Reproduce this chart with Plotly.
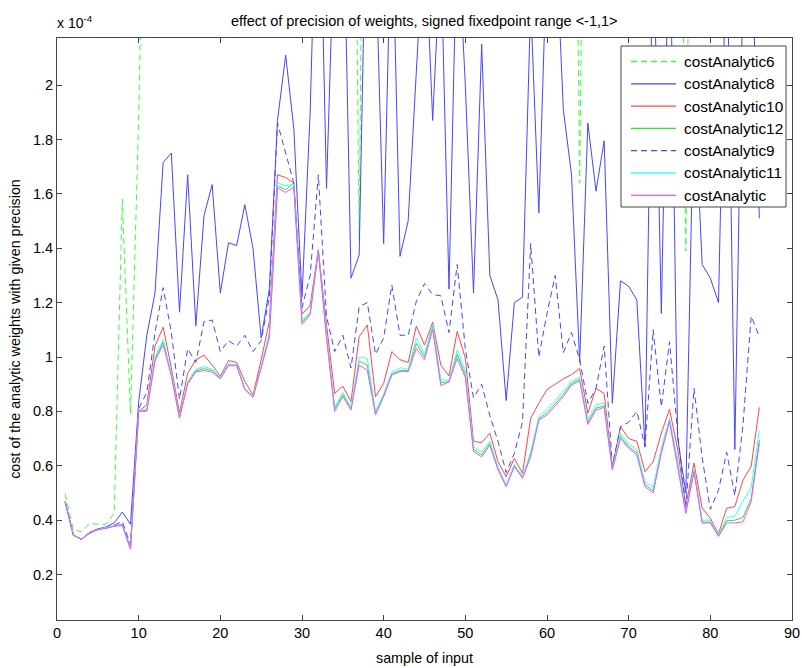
import plotly.graph_objects as go

# sample index 1..86
samples = list(range(1, 87))

# values in units of 1e-4
cost6 = [0.497, 0.365, 0.357, 0.388, 0.385, 0.385, 0.425, 1.580, 0.790, 1.880,
         3.400, 4.100, 3.800, 4.500, 3.600, 4.300, 3.900, 4.700, 4.200, 3.700,
         4.400, 4.000, 4.600, 3.900, 4.100, 4.800, 5.200, 4.900, 5.300, 4.400,
         4.700, 5.000, 4.300, 4.600, 4.200, 4.500, 1.430, 4.800, 4.400, 4.900,
         4.600, 4.300, 4.700, 5.000, 4.500, 4.800, 4.400, 4.600, 4.900, 4.700,
         4.200, 4.400, 4.100, 4.000, 3.900, 4.200, 4.300, 4.800, 4.500, 4.600,
         4.700, 4.900, 4.400, 1.640, 4.500, 4.300, 4.600, 4.100, 4.400, 4.200,
         4.300, 4.000, 4.500, 4.200, 4.400, 4.100, 1.390, 4.300, 4.000, 4.200,
         4.100, 4.400, 4.000, 4.300, 4.500, 4.600]

cost8 = [0.468, 0.345, 0.330, 0.355, 0.368, 0.375, 0.390, 0.430, 0.385, 0.834,
         1.080, 1.235, 1.715, 1.750, 1.165, 1.670, 1.115, 1.520, 1.634, 1.235,
         1.420, 1.410, 1.560, 1.400, 1.070, 1.250, 1.870, 2.110, 1.840, 1.220,
         1.900, 3.000, 1.620, 2.600, 2.800, 1.290, 1.375, 2.900, 2.500, 1.417,
         2.700, 1.370, 1.500, 2.050, 2.600, 1.870, 2.500, 1.250, 2.600, 2.000,
         1.235, 2.150, 1.300, 1.210, 0.840, 1.200, 1.220, 2.300, 1.530, 2.500,
         2.600, 1.910, 1.670, 0.980, 1.860, 1.610, 1.795, 0.830, 1.280, 1.260,
         1.210, 0.670, 2.600, 1.160, 2.700, 0.700, 0.500, 2.000, 1.340, 1.290,
         1.200, 2.600, 0.660, 2.400, 2.600, 1.510]

cost10 = [0.468, 0.345, 0.330, 0.355, 0.365, 0.372, 0.380, 0.385, 0.300, 0.800,
          0.824, 1.040, 1.110, 0.960, 0.795, 0.940, 0.990, 1.007, 0.970, 0.930,
          0.987, 0.980, 0.910, 0.860, 0.990, 1.130, 1.670, 1.660, 1.640, 1.157,
          1.190, 1.395, 1.120, 0.866, 0.893, 0.836, 1.075, 1.118, 0.854, 0.903,
          1.020, 0.990, 0.980, 1.114, 1.044, 1.128, 0.970, 0.930, 1.094, 0.996,
          0.690, 0.685, 0.720, 0.615, 0.560, 0.627, 0.572, 0.775, 0.830, 0.880,
          0.900, 0.920, 0.935, 0.958, 0.793, 0.885, 0.866, 0.597, 0.744, 0.700,
          0.690, 0.578, 0.615, 0.720, 0.808, 0.660, 0.450, 0.610, 0.445, 0.407,
          0.350, 0.444, 0.450, 0.548, 0.597, 0.815]

cost12 = [0.468, 0.345, 0.330, 0.352, 0.366, 0.371, 0.379, 0.381, 0.295, 0.800,
          0.805, 0.992, 1.055, 0.935, 0.777, 0.905, 0.950, 0.957, 0.950, 0.922,
          0.972, 0.970, 0.882, 0.853, 0.962, 1.080, 1.630, 1.615, 1.640, 1.128,
          1.160, 1.392, 1.078, 0.808, 0.862, 0.810, 0.985, 0.970, 0.793, 0.858,
          0.938, 0.950, 0.950, 1.050, 1.000, 1.112, 0.905, 0.910, 1.010, 0.935,
          0.660, 0.640, 0.682, 0.590, 0.526, 0.600, 0.557, 0.640, 0.772, 0.795,
          0.828, 0.862, 0.903, 0.918, 0.760, 0.812, 0.820, 0.588, 0.708, 0.670,
          0.648, 0.530, 0.508, 0.655, 0.768, 0.608, 0.428, 0.583, 0.393, 0.393,
          0.342, 0.398, 0.400, 0.410, 0.480, 0.695]

cost9 = [0.468, 0.345, 0.330, 0.354, 0.367, 0.372, 0.382, 0.395, 0.310, 0.810,
         0.870, 1.090, 1.255, 1.090, 0.845, 1.030, 0.980, 1.130, 1.136, 1.020,
         1.060, 1.040, 1.080, 1.020, 1.060, 1.220, 1.860, 1.750, 1.640, 1.180,
         1.300, 1.670, 1.150, 1.020, 1.080, 0.960, 1.185, 1.200, 1.010, 1.070,
         1.265, 1.080, 1.080, 1.205, 1.270, 1.230, 1.225, 1.090, 1.340, 1.030,
         0.850, 0.900, 0.785, 0.690, 0.575, 0.645, 0.760, 1.417, 1.000, 1.160,
         1.300, 1.016, 1.090, 0.990, 0.830, 0.885, 1.040, 0.600, 0.744, 0.760,
         0.800, 0.670, 1.100, 0.817, 1.056, 0.720, 0.445, 0.885, 0.630, 0.440,
         0.510, 0.650, 0.490, 0.750, 1.150, 1.075]

cost11 = [0.468, 0.345, 0.330, 0.353, 0.366, 0.372, 0.380, 0.383, 0.298, 0.800,
          0.810, 1.000, 1.065, 0.940, 0.780, 0.910, 0.955, 0.965, 0.955, 0.925,
          0.975, 0.972, 0.885, 0.855, 0.965, 1.090, 1.640, 1.630, 1.635, 1.135,
          1.165, 1.392, 1.085, 0.815, 0.870, 0.815, 1.000, 0.995, 0.800, 0.865,
          0.945, 0.960, 0.955, 1.070, 1.010, 1.120, 0.915, 0.915, 1.025, 0.950,
          0.670, 0.650, 0.690, 0.595, 0.530, 0.605, 0.560, 0.650, 0.780, 0.810,
          0.840, 0.875, 0.910, 0.925, 0.770, 0.825, 0.830, 0.590, 0.720, 0.680,
          0.660, 0.540, 0.520, 0.665, 0.775, 0.620, 0.430, 0.590, 0.400, 0.400,
          0.345, 0.410, 0.415, 0.470, 0.520, 0.730]

cost = [0.468, 0.345, 0.330, 0.352, 0.365, 0.370, 0.378, 0.380, 0.293, 0.800,
        0.800, 0.985, 1.045, 0.930, 0.775, 0.900, 0.945, 0.950, 0.944, 0.920,
        0.968, 0.968, 0.880, 0.852, 0.960, 1.070, 1.622, 1.605, 1.625, 1.120,
        1.155, 1.390, 1.070, 0.800, 0.854, 0.805, 0.970, 0.952, 0.787, 0.854,
        0.934, 0.946, 0.946, 1.032, 0.990, 1.100, 0.895, 0.908, 0.995, 0.925,
        0.652, 0.633, 0.676, 0.585, 0.523, 0.597, 0.554, 0.633, 0.768, 0.787,
        0.820, 0.854, 0.897, 0.912, 0.752, 0.805, 0.815, 0.585, 0.700, 0.664,
        0.640, 0.523, 0.500, 0.646, 0.762, 0.600, 0.425, 0.578, 0.389, 0.390,
        0.340, 0.390, 0.390, 0.394, 0.468, 0.683]

series_names = ["costAnalytic6", "costAnalytic8", "costAnalytic10", "costAnalytic12",
                "costAnalytic9", "costAnalytic11", "costAnalytic"]
series_values = [cost6, cost8, cost10, cost12, cost9, cost11, cost]
series_colors = ["rgb(60,255,60)", "rgb(70,70,255)", "rgb(255,70,70)", "rgb(40,230,40)",
                 "rgb(70,70,255)", "rgb(60,255,255)", "rgb(255,80,255)"]
series_dash = ["6px,4px", "solid", "solid", "solid", "6px,4px", "solid", "solid"]

y_ticks = [0.2, 0.4, 0.6, 0.8, 1.0, 1.2, 1.4, 1.6, 1.8, 2.0]
y_tick_labels = ["0.2", "0.4", "0.6", "0.8", "1", "1.2", "1.4", "1.6", "1.8", "2"]
x_ticks = [0, 10, 20, 30, 40, 50, 60, 70, 80, 90]

fig = go.Figure()
for name, vals, col, dash in zip(series_names, series_values, series_colors, series_dash):
    fig.add_trace(go.Scatter(x=samples, y=vals, mode="lines", name=name,
                             line=dict(color=col, width=1, dash=dash)))

font_family = "Liberation Sans, Arial, sans-serif"
axis_common = dict(showline=True, linecolor="#444", linewidth=1, mirror="ticks",
                   ticks="inside", ticklen=5, tickcolor="#444", showgrid=False,
                   zeroline=False, automargin=False,
                   tickfont=dict(family=font_family, size=14.5, color="#000"))

# plot area in pixels: x 57..792, y 38..620
L, R, T, B = 57, 10, 38, 48
W, H = 802, 668
pw, ph = W - L - R, H - T - B


def px_x(p):
    return (p - L) / pw


def px_y(p):
    return (H - B - p) / ph


fig.update_layout(
    width=W, height=H,
    margin=dict(l=L, r=R, t=T, b=B),
    paper_bgcolor="white", plot_bgcolor="white",
    title=dict(text="effect of precision of weights, signed fixedpoint range <-1,1>",
               x=0.529, xanchor="center", y=0.968, yanchor="middle",
               font=dict(family=font_family, size=14.5, color="#000")),
    xaxis=dict(range=[0, 90], tickvals=x_ticks, title=dict(text="sample of input",
               font=dict(family=font_family, size=14.3, color="#000"), standoff=12),
               **axis_common),
    yaxis=dict(range=[0.033, 2.173], tickvals=y_ticks, ticktext=y_tick_labels,
               title=dict(text="cost of the analytic weights with given precision",
                          font=dict(family=font_family, size=14.3, color="#000"), standoff=8),
               **axis_common),
    showlegend=False,
)

# exponent label
fig.add_annotation(text="x 10<sup>-4</sup>", xref="paper", yref="paper",
                   x=px_x(55), y=px_y(33), xanchor="left", yanchor="bottom", showarrow=False,
                   font=dict(family=font_family, size=14, color="#000"))

# legend box (drawn by hand to match the reference layout)
box_l, box_r, box_t, box_b = 621, 786, 46, 207
fig.add_shape(type="rect", xref="paper", yref="paper", layer="above",
              x0=px_x(box_l), x1=px_x(box_r), y0=px_y(box_b), y1=px_y(box_t),
              fillcolor="white", line=dict(color="#444", width=1))
entry_y0, entry_step = 61.5, 22.3
for k, (name, col, dash) in enumerate(zip(series_names, series_colors, series_dash)):
    yy = entry_y0 + k * entry_step
    fig.add_shape(type="line", xref="paper", yref="paper", layer="above",
                  x0=px_x(631), x1=px_x(676), y0=px_y(yy), y1=px_y(yy),
                  line=dict(color=col, width=1.3, dash=dash))
    fig.add_annotation(text=name, xref="paper", yref="paper",
                       x=px_x(680), y=px_y(yy), xanchor="left", yanchor="middle",
                       showarrow=False, xshift=2,
                       font=dict(family=font_family, size=15.4, color="#000"))

fig.write_html("out.html")
